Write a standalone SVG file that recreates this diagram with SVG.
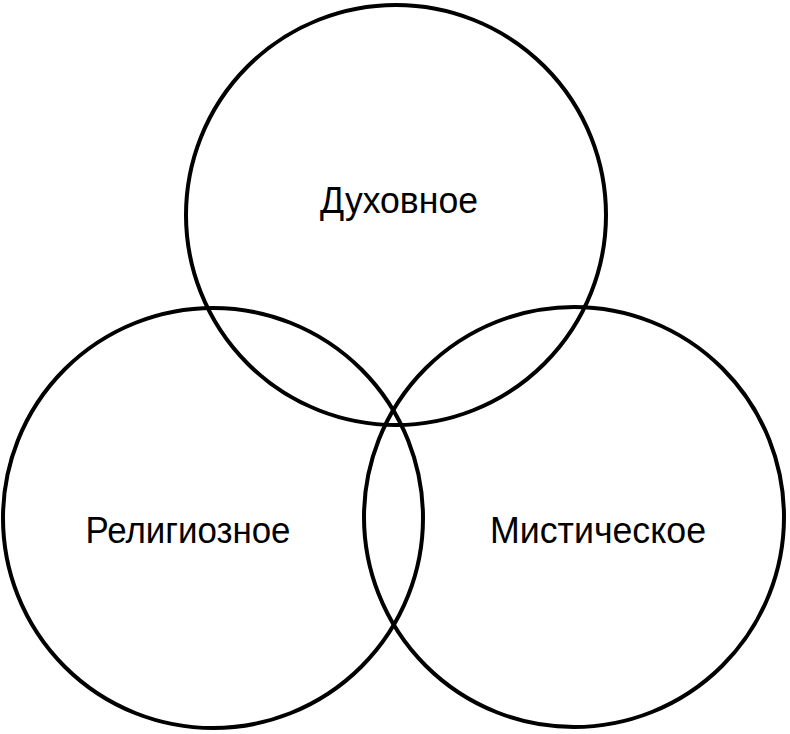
<svg xmlns="http://www.w3.org/2000/svg" width="790" height="734" viewBox="0 0 790 734">
<style>
.c{fill:none;stroke:#000;stroke-width:4}
.t{font-family:"Liberation Sans",Arial,sans-serif;font-size:37px;fill:#000;text-anchor:middle}
</style>
<rect width="790" height="734" fill="#fff"/>
<g id="top"><circle class="c" cx="396" cy="215" r="210"/><text class="t" x="399" y="213" textLength="158" lengthAdjust="spacingAndGlyphs">Духовное</text></g>
<g id="left"><circle class="c" cx="213" cy="518" r="210"/><text class="t" x="188" y="543" textLength="205" lengthAdjust="spacingAndGlyphs">Религиозное</text></g>
<g id="right"><circle class="c" cx="574" cy="517" r="210"/><text class="t" x="598" y="543" textLength="216" lengthAdjust="spacingAndGlyphs">Мистическое</text></g>
</svg>
